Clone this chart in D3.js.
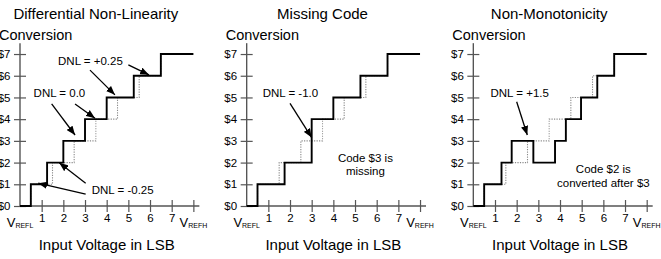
<!DOCTYPE html>
<html><head><meta charset="utf-8">
<script src="https://cdn.jsdelivr.net/npm/d3@7"></script>
<style>
html,body{margin:0;padding:0;background:#fff;}
svg{display:block;font-family:"Liberation Sans",Arial,Helvetica,sans-serif;}
</style></head><body>
<svg id="chart" width="661" height="259"></svg>
<script>
// ---------- data ----------
const titles = ["Differential Non-Linearity", "Missing Code", "Non-Monotonicity"];
const yTickValues = [0, 1, 2, 3, 4, 5, 6, 7];
const xTickValues = [1, 2, 3, 4, 5, 6, 7, 8];
const xTickLabels = ["1", "2", "3", "4", "5", "6", "7", ""];
const yLabel = "Conversion";
const xLabel = "Input Voltage in LSB";
// ideal transfer function (dotted): [input LSB, output code]
const idealSteps = [[0,0],[0.5,1],[1.5,2],[2.5,3],[3.5,4],[4.5,5],[5.5,6],[6.5,7],[8,7]];
// actual transfer functions (solid)
const dnlSteps = [[0,0],[0.5,1],[1.25,2],[2,3],[3,4],[4,5],[5.25,6],[6.5,7],[8,7]];
const missingSteps = [[0,0],[0.5,1],[1.75,2],[3,4],[4,5],[5.25,6],[6.5,7],[8,7]];
const nonMonoSteps = [[0,0],[0.5,1],[1.3,2],[1.77,3],[2.77,2],[3.77,3],[4.27,4],[4.97,5],[5.72,6],[6.5,7],[8,7]];
// annotations: text lines anchored at (x LSB, y code); arrows [x1,y1,x2,y2] in data units
const dnlNotes = [
  {lines:["DNL = +0.25"], x:3.25, y:6.5, arrows:[[3.23,6.26,4.38,5.12],[5.0,6.5,5.95,6.04]]},
  {lines:["DNL = 0.0"], x:1.82, y:5.0, arrows:[[1.46,4.7,2.54,3.27],[2.54,4.7,3.46,4.04]]},
  {lines:["DNL = -0.25"], x:4.74, y:0.55, arrows:[[3.03,1.05,1.81,1.99],[3.03,0.55,0.84,1.05]]}
];
const missingNotes = [
  {lines:["DNL = -1.0"], x:2.02, y:5.0, arrows:[[2.0,4.73,3.0,3.15]]},
  {lines:["Code $3 is","missing"], x:5.48, y:2.04, arrows:[]}
];
const nonMonoNotes = [
  {lines:["DNL = +1.5"], x:2.14, y:5.02, arrows:[[2.0,4.8,2.49,3.27]]},
  {lines:["Code $2 is","converted after $3"], x:6.0, y:1.52, arrows:[]}
];
const panels = [
  {title: titles[0], actual: dnlSteps, notes: dnlNotes},
  {title: titles[1], actual: missingSteps, notes: missingNotes},
  {title: titles[2], actual: nonMonoSteps, notes: nonMonoNotes}
];

// ---------- drawing ----------
const svg = d3.select("#chart");
const axisColor = "#555";
const unit = 21.67;
const panelLeft = [20, 246.67, 473.33];
const y0 = 206, yUnit = 21.71;

svg.append("defs").append("marker")
  .attr("id","arrow").attr("viewBox","0 0 10 8").attr("refX",10).attr("refY",4)
  .attr("markerWidth",9).attr("markerHeight",7.5).attr("markerUnits","userSpaceOnUse")
  .attr("orient","auto")
  .append("path").attr("d","M0,0 L10,4 L0,8 Z").attr("fill","#000");

panels.forEach((p, i) => {
  const x = d3.scaleLinear().domain([0, 8]).range([panelLeft[i], panelLeft[i] + 8 * unit]);
  const y = d3.scaleLinear().domain([0, 7]).range([y0, y0 - 7 * yUnit]);
  const g = svg.append("g");

  // title
  g.append("text").attr("x", x(3.5)).attr("y", 19).attr("text-anchor","middle")
    .attr("font-size", 15).text(p.title);
  g.append("text").attr("x", x(0) - 21).attr("y", 40).attr("font-size", 14.5).text(yLabel);
  g.append("text").attr("x", x(4)).attr("y", 250).attr("text-anchor","middle")
    .attr("font-size", 15).text(xLabel);

  // axis lines
  g.append("line").attr("x1", x(0)).attr("x2", x(0)).attr("y1", y(7.5)).attr("y2", y(0))
    .attr("stroke", axisColor).attr("stroke-width", 1.4);
  g.append("line").attr("x1", x(0)).attr("x2", x(8) + 6).attr("y1", y(0)).attr("y2", y(0))
    .attr("stroke", axisColor).attr("stroke-width", 1.4);

  // y axis ticks
  const gy = g.append("g").attr("transform", `translate(${x(0)},0)`)
    .call(d3.axisLeft(y).tickValues(yTickValues).tickFormat(d => "$" + d).tickSize(6).tickPadding(3.5));
  gy.attr("font-family", null).attr("font-size", 11.5);
  gy.select(".domain").remove();
  gy.selectAll(".tick line").attr("x1", 6).attr("stroke", axisColor).attr("stroke-width", 1.2);
  gy.selectAll(".tick text").attr("fill", "#000");

  // x axis ticks
  const gx = g.append("g").attr("transform", `translate(0,${y(0)})`)
    .call(d3.axisBottom(x).tickValues(xTickValues).tickFormat((d, k) => xTickLabels[k]).tickSize(6).tickPadding(1.8));
  gx.attr("font-family", null).attr("font-size", 11.5);
  gx.select(".domain").remove();
  gx.selectAll(".tick line").attr("y1", -6).attr("stroke", axisColor).attr("stroke-width", 1.2);
  gx.selectAll(".tick text").attr("fill", "#000");

  // VREFL / VREFH
  [[0, "REFL"], [8, "REFH"]].forEach(([v, sub]) => {
    const t = g.append("text").attr("x", x(v)).attr("y", 227).attr("text-anchor", "middle");
    t.append("tspan").attr("font-size", 13).text("V");
    t.append("tspan").attr("font-size", 7).attr("dy", 1).text(sub);
  });

  // staircases
  const line = d3.line().x(d => x(d[0])).y(d => y(d[1])).curve(d3.curveStepAfter);
  g.append("path").attr("d", line(idealSteps)).attr("fill","none")
    .attr("stroke","#8a8a8a").attr("stroke-width",1.1).attr("stroke-dasharray","1.2,1.3");
  g.append("path").attr("d", line(p.actual)).attr("fill","none")
    .attr("stroke","#000").attr("stroke-width",1.9).attr("stroke-linejoin","miter");

  // annotations
  p.notes.forEach(n => {
    const t = g.append("text").attr("x", x(n.x)).attr("y", y(n.y))
      .attr("text-anchor","middle").attr("font-size", 11.5);
    n.lines.forEach((l, k) => {
      t.append("tspan").attr("x", x(n.x)).attr("dy", k === 0 ? 0 : 13.5).text(l);
    });
    n.arrows.forEach(a => {
      g.append("line").attr("x1", x(a[0])).attr("y1", y(a[1])).attr("x2", x(a[2])).attr("y2", y(a[3]))
        .attr("stroke","#000").attr("stroke-width",1.3).attr("marker-end","url(#arrow)");
    });
  });
});
</script>
</body></html>
